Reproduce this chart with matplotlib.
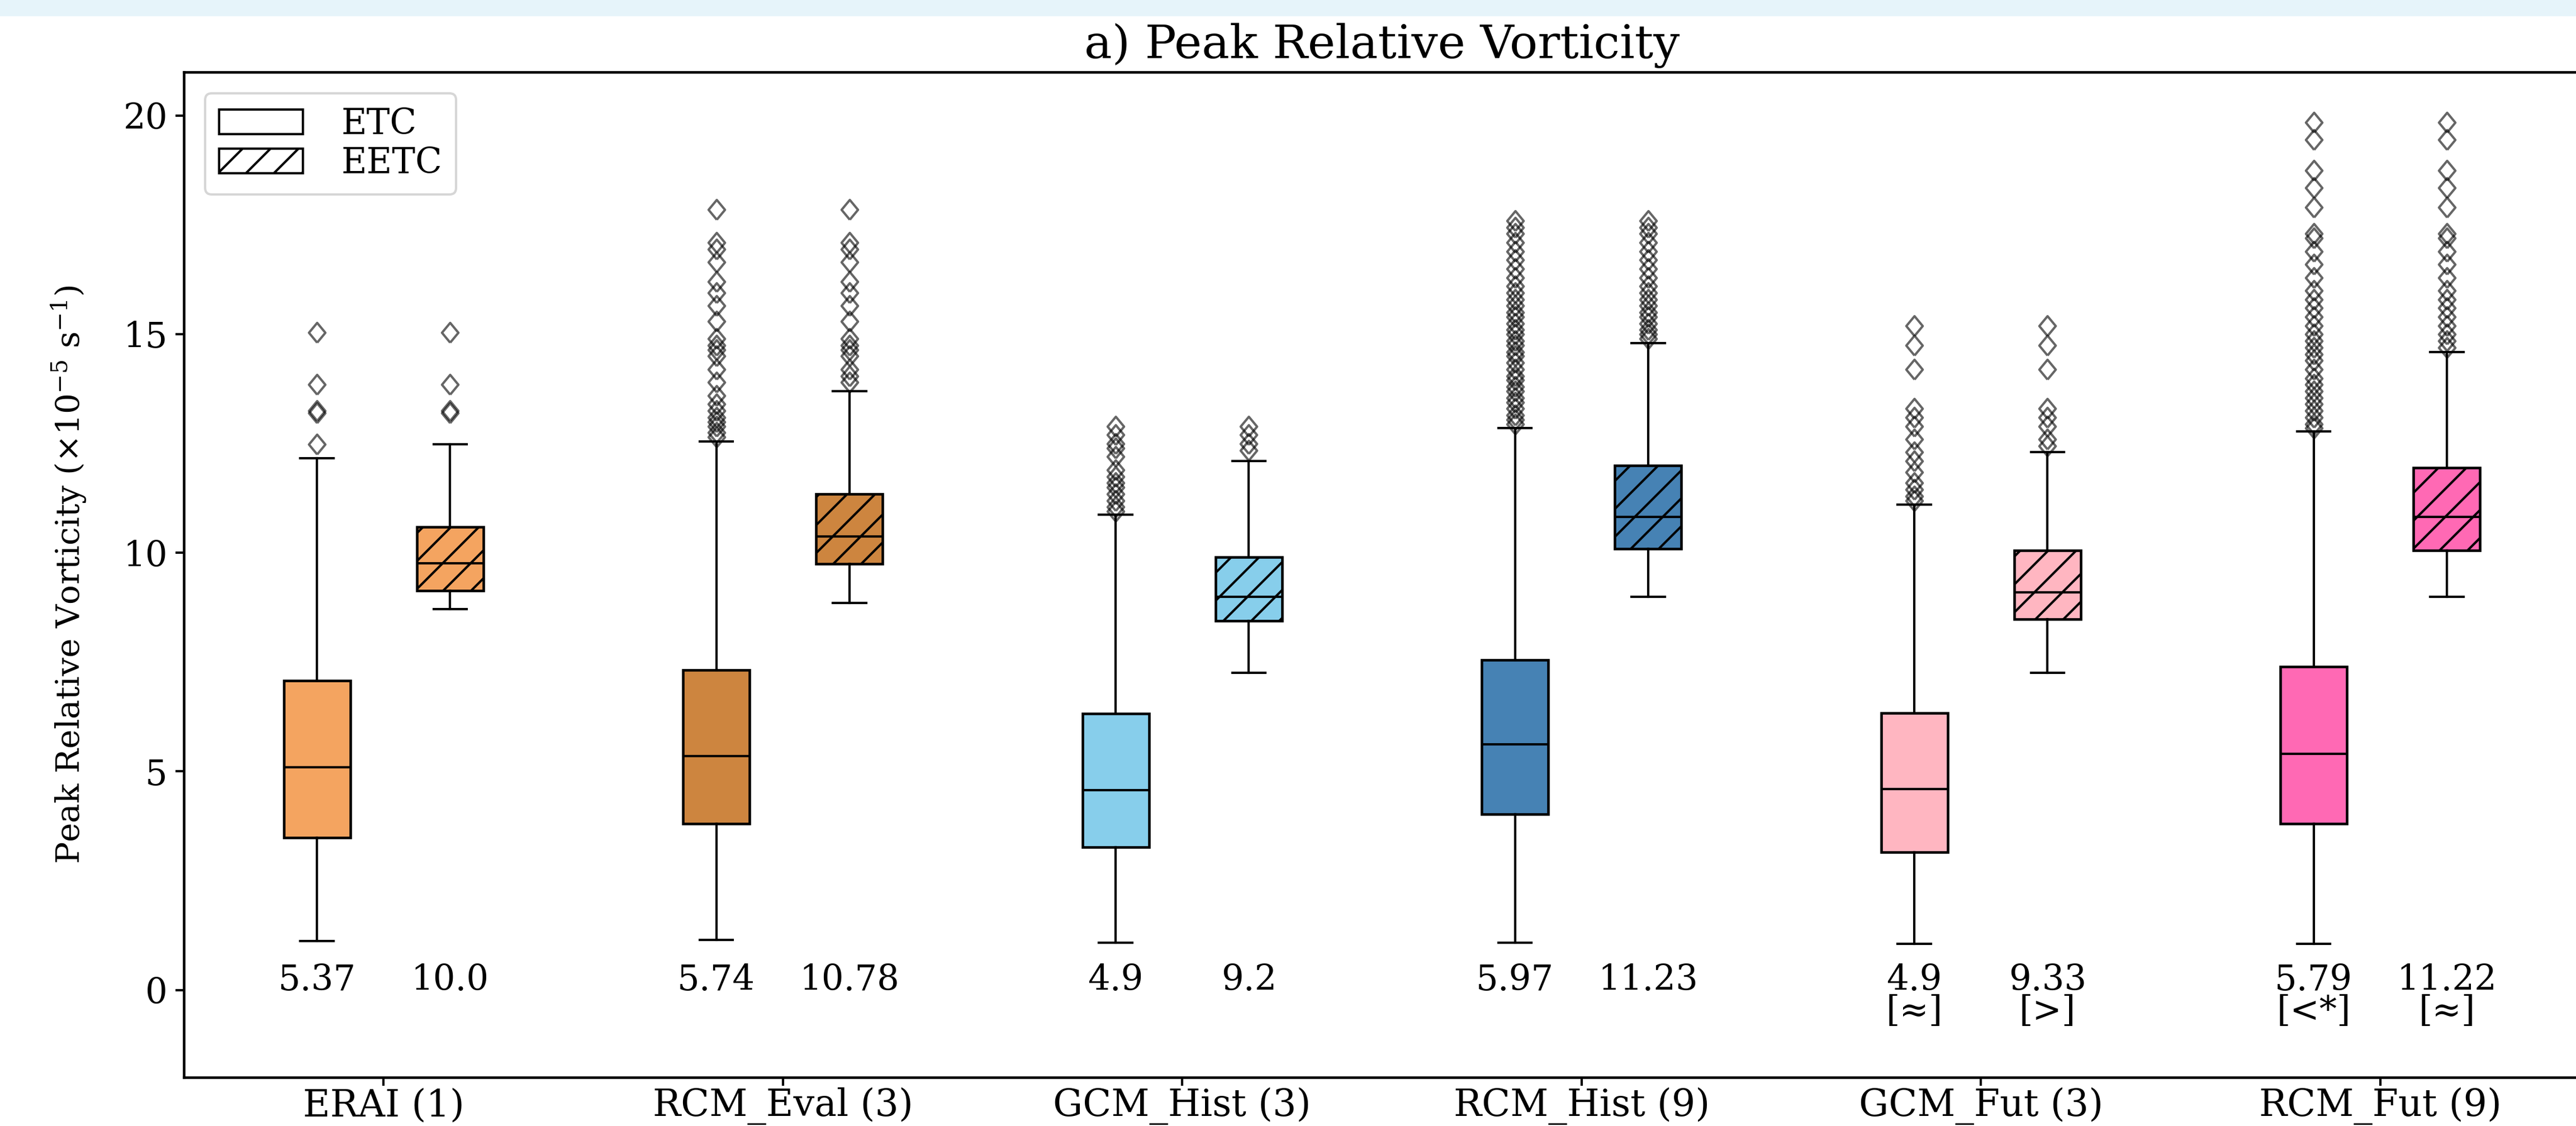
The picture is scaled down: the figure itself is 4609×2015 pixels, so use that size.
import matplotlib
matplotlib.use('Agg')
import matplotlib.pyplot as plt
from matplotlib.patches import Patch, Rectangle

plt.rcParams['font.family'] = ['DejaVu Serif']
plt.rcParams['mathtext.fontset'] = 'dejavuserif'
plt.rcParams['hatch.linewidth'] = 1.0

# ---------------- data ----------------
groups = ['ERAI (1)', 'RCM_Eval (3)', 'GCM_Hist (3)', 'RCM_Hist (9)', 'GCM_Fut (3)', 'RCM_Fut (9)']
colors = ['#F4A460', '#CD853F', '#87CEEB', '#4682B4', '#FFB6C1', '#FF69B4']

# ETC box statistics
etc_whislo = [1.12, 1.15, 1.08, 1.08, 1.05, 1.05]
etc_q1 = [3.49, 3.80, 3.27, 4.02, 3.15, 3.80]
etc_med = [5.10, 5.35, 4.57, 5.62, 4.60, 5.40]
etc_q3 = [7.08, 7.32, 6.32, 7.55, 6.33, 7.40]
etc_whishi = [12.16, 12.55, 10.88, 12.85, 11.10, 12.78]
etc_fliers = [
    [12.49, 13.20, 13.25, 13.85, 15.04],
    [12.65, 12.75, 12.9, 13.0, 13.1, 13.25, 13.4, 13.6, 13.9, 14.2, 14.5, 14.65, 14.75, 14.9,
     15.3, 15.65, 15.95, 16.2, 16.65, 16.95, 17.1, 17.85],
    [10.95, 11.05, 11.2, 11.35, 11.5, 11.6, 11.75, 11.9, 12.2, 12.4, 12.5, 12.7, 12.9],
    [12.95, 13.05, 13.15, 13.3, 13.45, 13.55, 13.7, 13.8, 13.95, 14.05, 14.2, 14.35, 14.5, 14.6,
     14.75, 14.85, 15.0, 15.1, 15.25, 15.4, 15.5, 15.65, 15.8, 15.95, 16.1, 16.3, 16.5, 16.7,
     16.9, 17.1, 17.3, 17.45, 17.6],
    [11.2, 11.3, 11.45, 11.6, 11.85, 12.1, 12.3, 12.6, 12.9, 13.1, 13.3, 14.2, 14.75, 15.2],
    [12.85, 12.95, 13.1, 13.25, 13.4, 13.55, 13.7, 13.85, 14.0, 14.2, 14.4, 14.55, 14.7, 14.85,
     15.0, 15.2, 15.4, 15.6, 15.8, 16.0, 16.3, 16.6, 16.9, 17.2, 17.3, 17.9, 18.35, 18.75,
     19.45, 19.85],
]

# EETC box statistics
eetc_whislo = [8.71, 8.85, 7.25, 9.00, 7.25, 9.00]
eetc_q1 = [9.13, 9.75, 8.45, 10.10, 8.48, 10.05]
eetc_med = [9.76, 10.38, 9.00, 10.82, 9.10, 10.82]
eetc_q3 = [10.59, 11.35, 9.90, 12.00, 10.05, 11.95]
eetc_whishi = [12.49, 13.70, 12.10, 14.80, 12.30, 14.60]
eetc_fliers = [
    [13.20, 13.25, 13.85, 15.04],
    [13.9, 14.05, 14.2, 14.5, 14.65, 14.75, 14.9, 15.3, 15.65, 15.95, 16.2, 16.65, 16.95,
     17.1, 17.85],
    [12.35, 12.5, 12.7, 12.9],
    [14.9, 15.0, 15.1, 15.25, 15.4, 15.5, 15.65, 15.8, 15.95, 16.1, 16.3, 16.5, 16.7, 16.9,
     17.1, 17.3, 17.45, 17.6],
    [12.45, 12.6, 12.9, 13.1, 13.3, 14.2, 14.75, 15.2],
    [14.7, 14.85, 15.0, 15.2, 15.4, 15.6, 15.8, 16.0, 16.3, 16.6, 16.9, 17.2, 17.3, 17.9,
     18.35, 18.75, 19.45, 19.85],
]

etc_mean_labels = ['5.37', '5.74', '4.9', '5.97', '4.9', '5.79']
eetc_mean_labels = ['10.0', '10.78', '9.2', '11.23', '9.33', '11.22']
etc_sig_labels = ['', '', '', '', '[\u2248]', '[<*]']
eetc_sig_labels = ['', '', '', '', '[>]', '[\u2248]']

legend_labels = ['ETC', 'EETC']
title_text = 'a) Peak Relative Vorticity'
ylabel_text = r'Peak Relative Vorticity ($\times10^{-5}$ s$^{-1}$)'
yticks = [0, 5, 10, 15, 20]

# ---------------- figure ----------------
W, H, DPI = 4609, 2015, 300
fig = plt.figure(figsize=(W / DPI, H / DPI), dpi=DPI)
fig.patches.append(Rectangle((0, 1 - 29 / H), 1, 29 / H, transform=fig.transFigure,
                             facecolor='#E6F4FA', edgecolor='none', zorder=0))

ax = fig.add_axes([329 / W, 87 / H, 4287 / W, 1799 / H])

n = len(groups)
pos_etc = [3 * i + 1 for i in range(n)]
pos_eetc = [3 * i + 2 for i in range(n)]
ticks = [3 * i + 1.5 for i in range(n)]


def make_stats(lo, q1, med, q3, hi, fl):
    return [dict(whislo=lo[i], q1=q1[i], med=med[i], q3=q3[i], whishi=hi[i], fliers=fl[i])
            for i in range(len(lo))]


diamond = [(0, -1), (0.83, 0), (0, 1), (-0.83, 0), (0, -1)]
common = dict(widths=0.5, patch_artist=True, showfliers=True,
              boxprops=dict(edgecolor='black', linewidth=1.1),
              medianprops=dict(color='black', linewidth=1.0),
              whiskerprops=dict(color='black', linewidth=1.0),
              capprops=dict(color='black', linewidth=1.0),
              flierprops=dict(marker=diamond, markerfacecolor='none',
                              markeredgecolor=(0, 0, 0, 0.6), markersize=8.5,
                              markeredgewidth=1.0))

b1 = ax.bxp(make_stats(etc_whislo, etc_q1, etc_med, etc_q3, etc_whishi, etc_fliers),
            positions=pos_etc, **common)
b2 = ax.bxp(make_stats(eetc_whislo, eetc_q1, eetc_med, eetc_q3, eetc_whishi, eetc_fliers),
            positions=pos_eetc, **common)
for i, box in enumerate(b1['boxes']):
    box.set_facecolor(colors[i])
for i, box in enumerate(b2['boxes']):
    box.set_facecolor(colors[i])
    box.set_hatch('//')

for i in range(n):
    ax.text(pos_etc[i], 0.0, etc_mean_labels[i], ha='center', va='baseline', fontsize=15)
    ax.text(pos_eetc[i], 0.0, eetc_mean_labels[i], ha='center', va='baseline', fontsize=15)
    if etc_sig_labels[i]:
        ax.text(pos_etc[i], -0.72, etc_sig_labels[i], ha='center', va='baseline', fontsize=15)
    if eetc_sig_labels[i]:
        ax.text(pos_eetc[i], -0.72, eetc_sig_labels[i], ha='center', va='baseline', fontsize=15)

ax.set_xlim(0, 18)
ax.set_ylim(-2, 21)
ax.set_xticks(ticks)
ax.set_xticklabels(groups, fontsize=16)
ax.set_yticks(yticks)
ax.tick_params(axis='y', labelsize=15, width=1.0, length=3.5)
ax.tick_params(axis='x', width=1.0, length=3.5, pad=0.8)
for sp in ax.spines.values():
    sp.set_linewidth(1.1)

ax.set_title(title_text, fontsize=20)
ax.set_ylabel(ylabel_text, fontsize=14)
ax.yaxis.set_label_coords(-0.040, 0.5)

handles = [Patch(facecolor='white', edgecolor='black', label=legend_labels[0]),
           Patch(facecolor='white', edgecolor='black', hatch='//', label=legend_labels[1])]
ax.legend(handles=handles, loc='upper left', fontsize=15, labelspacing=0.15,
          handlelength=2.4, handletextpad=1.1, borderaxespad=0.6)

fig.savefig('out.png', dpi=DPI)
